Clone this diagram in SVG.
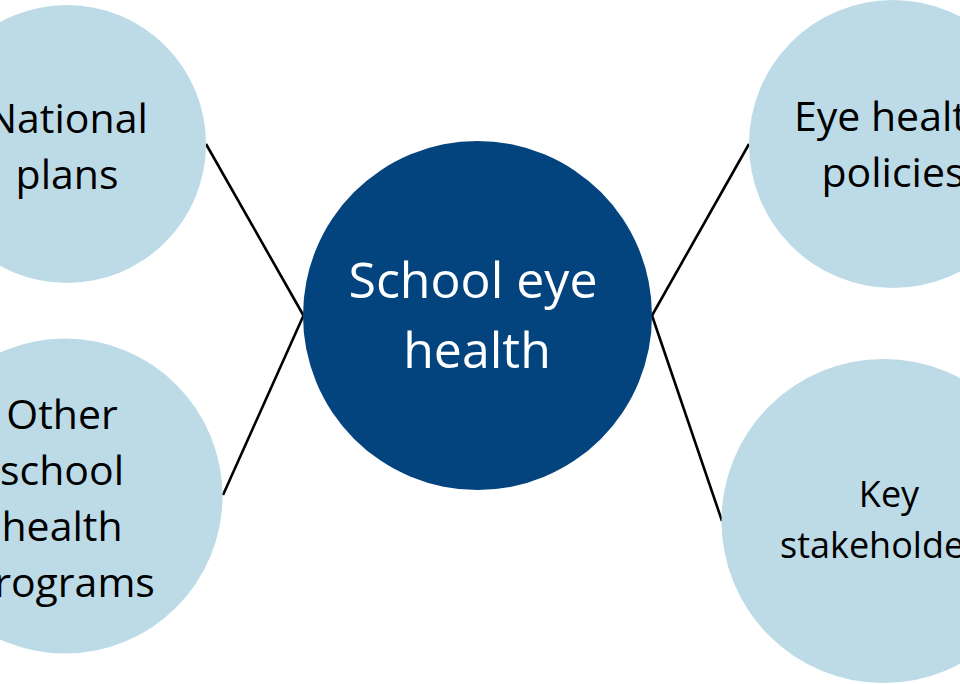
<svg xmlns="http://www.w3.org/2000/svg" width="960" height="684" viewBox="0 0 960 684">
<style>
.sat{fill:#BDDBE7}
.hub{fill:#03447F}
.t{font-family:"Open Sans","Noto Sans","DejaVu Sans",sans-serif;text-anchor:middle;fill:#000}
.w{fill:#fff}
.c{stroke:#000;stroke-width:2.6;fill:none}
</style>
<rect width="960" height="684" fill="#fff"/>
<g id="connectors">
<line class="c" x1="206" y1="144" x2="303.5" y2="315.5"/>
<line class="c" x1="223" y1="495" x2="303.5" y2="315.5"/>
<line class="c" x1="749" y1="144" x2="652" y2="315.5"/>
<line class="c" x1="722" y1="521" x2="652" y2="315.5"/>
</g>
<g id="national-plans">
<circle class="sat" cx="67" cy="144" r="139"/>
<text class="t" font-size="41"><tspan x="67" y="133">National</tspan><tspan x="67" y="189">plans</tspan></text>
</g>
<g id="other-programs">
<circle class="sat" cx="65" cy="496" r="157.5"/>
<text class="t" font-size="41"><tspan x="62" y="429">Other</tspan><tspan x="62" y="485">school</tspan><tspan x="62" y="541">health</tspan><tspan x="62" y="597">programs</tspan></text>
</g>
<g id="eye-health-policies">
<circle class="sat" cx="893" cy="144" r="144"/>
<text class="t" font-size="41"><tspan x="893" y="131">Eye health</tspan><tspan x="893" y="187">policies</tspan></text>
</g>
<g id="key-stakeholders">
<circle class="sat" cx="883.5" cy="521" r="162"/>
<text class="t" font-size="36"><tspan x="889" y="507">Key</tspan><tspan x="888" y="558">stakeholders</tspan></text>
</g>
<g id="school-eye-health">
<circle class="hub" cx="477.5" cy="315.5" r="174.5"/>
<text class="t w" font-size="50"><tspan x="473" y="298">School eye</tspan><tspan x="477" y="368">health</tspan></text>
</g>
</svg>
